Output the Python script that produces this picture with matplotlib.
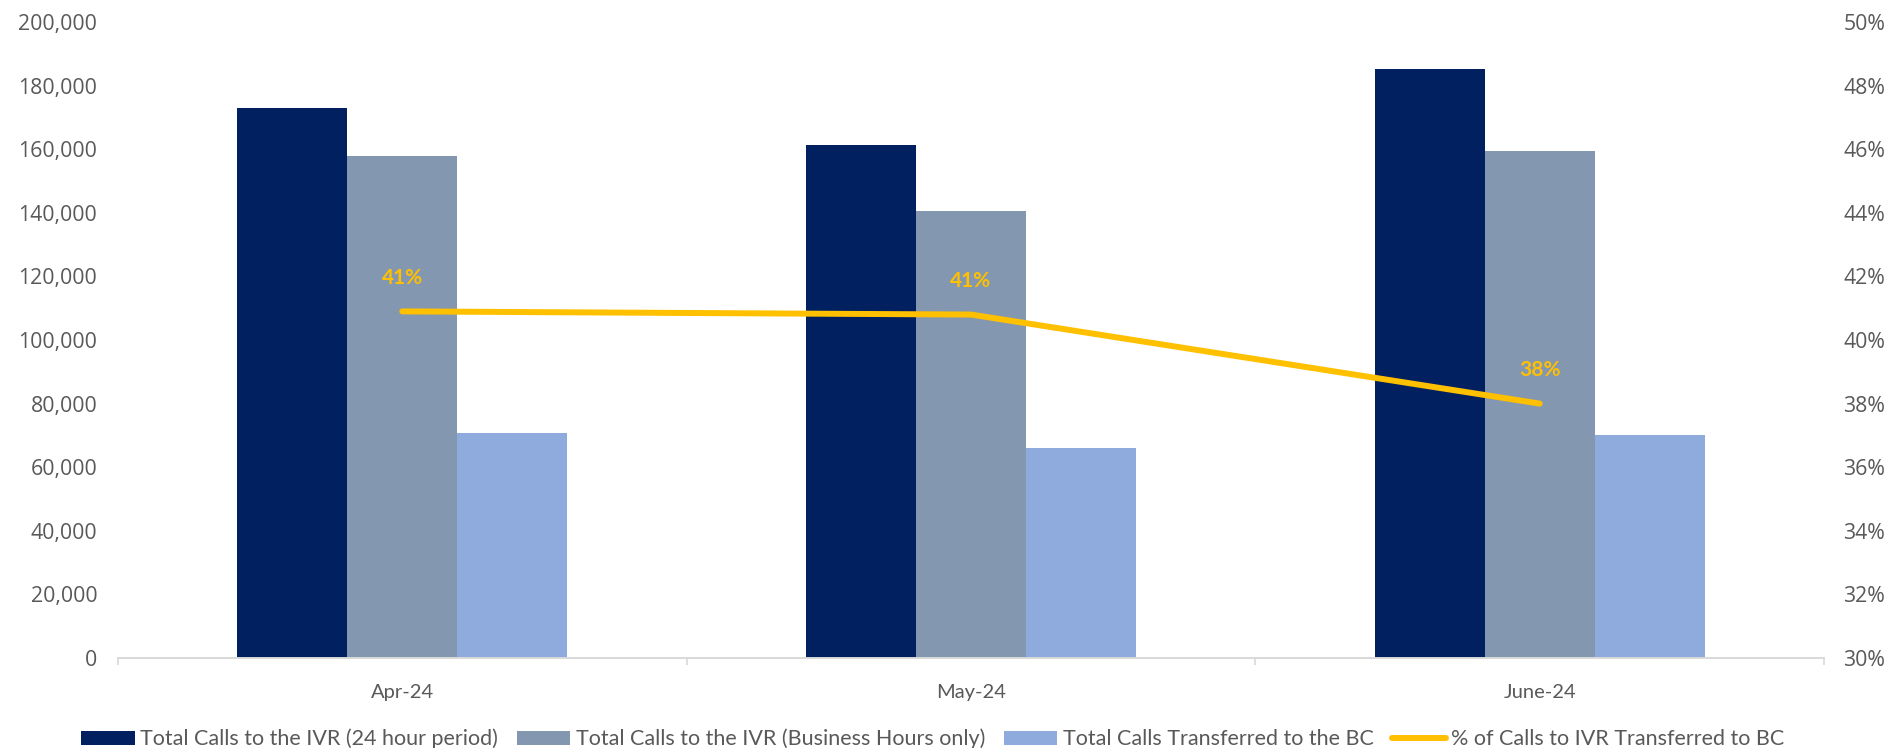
import numpy as np
import matplotlib
matplotlib.use("Agg")
import matplotlib.pyplot as plt
from matplotlib.ticker import FuncFormatter, MultipleLocator

months = ["Apr-24", "May-24", "June-24"]
calls_24h = [173000, 161300, 185100]
calls_business = [158000, 140600, 159300]
calls_transferred = [70800, 65900, 70000]
pct_transferred = [0.409, 0.408, 0.380]
pct_labels = ["41%", "41%", "38%"]

series_names = [
    "Total Calls to the IVR (24 hour period)",
    "Total Calls to the IVR (Business Hours only)",
    "Total Calls Transferred to the BC",
    "% of Calls to IVR Transferred to BC",
]
colors = ["#002060", "#8497B0", "#8FAADC"]
line_color = "#FFC000"
text_color = "#595959"
axis_color = "#D9D9D9"

plt.rcParams["font.family"] = ["Lato", "DejaVu Sans"]

fig = plt.figure(figsize=(18.96, 7.48), dpi=100)
ax = fig.add_axes([118 / 1896, 1 - 658 / 748, (1824 - 118) / 1896, (658 - 22) / 748])

x = np.arange(len(months))
w = 0.1934
bars = []
for i, vals in enumerate([calls_24h, calls_business, calls_transferred]):
    b = ax.bar(x + (i - 1) * w, vals, width=w, color=colors[i], label=series_names[i], zorder=2)
    bars.append(b)

ax.set_xlim(-0.5, len(months) - 0.5)
ax.set_ylim(0, 200000)
ax.yaxis.set_major_locator(MultipleLocator(20000))
ax.yaxis.set_major_formatter(FuncFormatter(lambda v, p: f"{int(v):,}"))

for s in ["top", "right", "left"]:
    ax.spines[s].set_visible(False)
ax.spines["bottom"].set_color(axis_color)
ax.spines["bottom"].set_linewidth(1.4)

ax.set_xticks(x)
ax.set_xticklabels(months)
ax.set_xticks(np.arange(len(months) + 1) - 0.5, minor=True)
ax.tick_params(axis="x", which="major", length=0, pad=19, labelsize=14.5, labelcolor=text_color)
ax.tick_params(axis="x", which="minor", length=5, width=1.2, color=axis_color, direction="out")
ax.tick_params(axis="y", length=0, pad=15, labelcolor=text_color)
for t in ax.get_yticklabels():
    t.set_fontfamily("Open Sans")
    t.set_fontsize(15.3)

ax2 = ax.twinx()
ax2.set_ylim(0.30, 0.50)
ax2.yaxis.set_major_locator(MultipleLocator(0.02))
ax2.yaxis.set_major_formatter(FuncFormatter(lambda v, p: f"{v * 100:.0f}%"))
for s in ["top", "right", "left", "bottom"]:
    ax2.spines[s].set_visible(False)
ax2.tick_params(axis="y", length=0, pad=14, labelcolor=text_color)
for t in ax2.get_yticklabels():
    t.set_fontfamily("Open Sans")
    t.set_fontsize(15.3)

(line,) = ax2.plot(x, pct_transferred, color=line_color, lw=4.3, label=series_names[3],
                   solid_capstyle="round", zorder=3)
for xi, yi, lab in zip(x, pct_transferred, pct_labels):
    ax2.annotate(lab, (xi, yi), xytext=(0, 24), textcoords="offset points",
                 ha="center", va="center", color=line_color, fontsize=15, fontweight="bold")

handles = bars + [line]
leg = fig.legend(handles, series_names, loc="center", bbox_to_anchor=(0.492, 0.012),
                 ncol=4, frameon=False, fontsize=15.5, handlelength=2.5, handleheight=0.65,
                 handletextpad=0.25, columnspacing=0.85, labelcolor=text_color)

fig.savefig("out.png", dpi=100)
